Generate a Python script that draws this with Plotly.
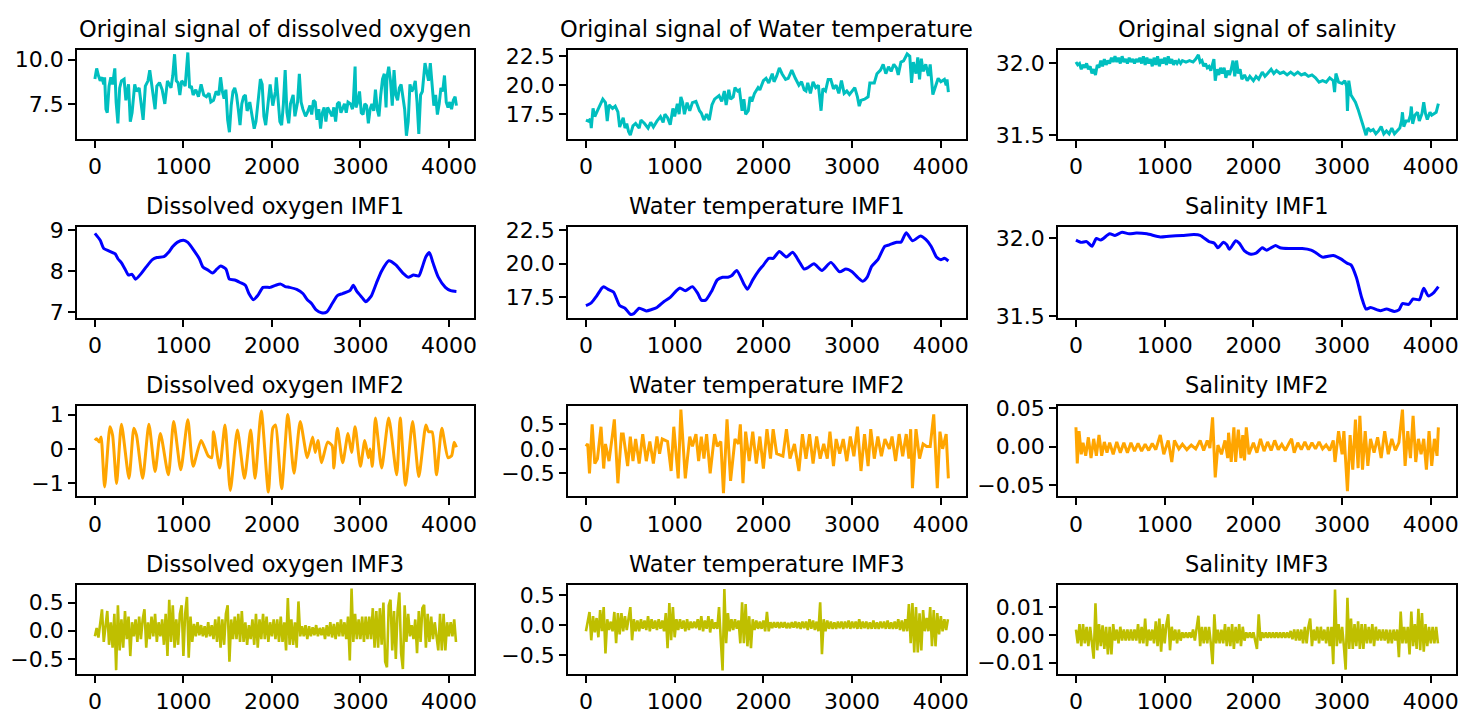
import numpy as np
import plotly.graph_objects as go

# ------------------------------------------------------------------
# Sample values (x = sample index, y = value)
# ------------------------------------------------------------------
do_raw = [(0, 8.9), (20, 9.5), (40, 9.1), (60, 8.8), (80, 9.0), (100, 8.6), (110, 9.0), (125, 7.2),
          (140, 7.0), (160, 8.5), (180, 9.0), (200, 8.6), (225, 9.5), (240, 7.6), (260, 6.4), (280, 8.4),
          (300, 8.8), (330, 8.9), (350, 7.7), (380, 8.6), (400, 6.5), (420, 7.0), (450, 8.6), (470, 8.2),
          (500, 8.4), (520, 7.5), (545, 6.6), (570, 8.5), (600, 8.8), (620, 9.4), (640, 8.6), (660, 8.0),
          (680, 7.2), (700, 8.5), (730, 8.7), (760, 8.3), (790, 7.5), (820, 8.8), (840, 8.6), (860, 8.4),
          (880, 9.1), (900, 10.3), (920, 8.8), (940, 8.7), (960, 8.0), (980, 8.8), (1000, 8.7), (1020, 8.5),
          (1050, 10.4), (1070, 8.4), (1090, 8.5), (1110, 8.0), (1140, 8.3), (1170, 7.9), (1200, 8.6),
          (1230, 8.0), (1260, 7.9), (1290, 8.1), (1310, 7.6), (1340, 7.7), (1370, 8.2), (1400, 8.0),
          (1420, 9.0), (1440, 8.2), (1460, 7.8), (1480, 8.3), (1500, 6.6), (1520, 5.9), (1540, 7.4),
          (1560, 8.2), (1580, 8.4), (1600, 8.0), (1620, 7.2), (1640, 6.3), (1660, 7.5), (1680, 7.9),
          (1700, 8.0), (1720, 7.1), (1750, 7.6), (1780, 6.6), (1800, 6.1), (1820, 6.5), (1840, 7.4),
          (1870, 8.9), (1890, 8.6), (1910, 6.8), (1930, 6.3), (1950, 7.3), (1980, 8.6), (2010, 7.4),
          (2040, 8.2), (2050, 9.0), (2070, 7.5), (2090, 6.5), (2110, 6.3), (2130, 7.5), (2150, 9.4),
          (2170, 7.0), (2190, 6.4), (2210, 7.5), (2240, 8.0), (2260, 6.8), (2290, 7.6), (2310, 9.2),
          (2330, 7.6), (2350, 7.2), (2380, 6.8), (2400, 7.0), (2430, 7.4), (2450, 6.9), (2470, 7.7),
          (2490, 7.6), (2510, 6.6), (2530, 7.2), (2550, 6.1), (2570, 7.0), (2590, 7.3), (2610, 6.5),
          (2630, 7.3), (2660, 7.0), (2680, 6.8), (2700, 7.3), (2720, 6.5), (2740, 7.5), (2760, 7.6),
          (2780, 7.0), (2800, 7.3), (2820, 7.5), (2840, 7.0), (2860, 7.6), (2890, 7.5), (2910, 7.2),
          (2920, 7.6), (2940, 9.6), (2950, 7.3), (2970, 7.6), (2990, 8.2), (3010, 7.0), (3030, 6.9),
          (3050, 7.5), (3070, 7.4), (3090, 6.4), (3110, 7.2), (3130, 7.5), (3150, 7.1), (3170, 8.3),
          (3190, 7.2), (3210, 6.8), (3230, 8.0), (3250, 8.9), (3270, 9.2), (3290, 7.3), (3300, 9.0),
          (3320, 9.6), (3340, 8.8), (3360, 7.4), (3380, 9.4), (3400, 8.0), (3420, 7.7), (3440, 8.4),
          (3460, 8.6), (3480, 7.8), (3500, 7.2), (3520, 5.7), (3540, 6.5), (3560, 8.6), (3580, 8.2),
          (3600, 8.4), (3620, 8.8), (3640, 7.6), (3660, 5.8), (3680, 8.0), (3700, 8.2), (3730, 9.8),
          (3750, 9.2), (3770, 8.8), (3790, 9.8), (3810, 8.5), (3830, 7.4), (3850, 8.0), (3870, 6.9),
          (3890, 7.5), (3910, 8.4), (3930, 8.2), (3950, 9.1), (3970, 7.6), (3990, 7.3), (4010, 7.6),
          (4030, 7.2), (4050, 7.7), (4070, 7.9), (4085, 7.4)]

wt_raw = [(0, 17.0), (30, 16.9), (50, 17.1), (60, 16.3), (80, 18.0), (100, 17.3), (130, 17.8),
          (160, 18.3), (190, 18.8), (220, 18.5), (240, 16.9), (260, 18.3), (300, 18.0), (330, 18.2),
          (360, 17.7), (380, 16.4), (400, 16.9), (420, 17.2), (440, 16.3), (460, 16.7), (480, 16.0),
          (500, 15.7), (530, 16.5), (560, 16.7), (600, 16.3), (620, 17.0), (660, 16.7), (700, 16.3),
          (730, 16.8), (760, 16.4), (800, 16.9), (840, 17.3), (870, 16.8), (890, 17.5), (920, 17.2),
          (950, 16.6), (980, 18.0), (1000, 17.3), (1030, 18.4), (1050, 17.5), (1070, 19.0), (1090, 18.5),
          (1110, 17.5), (1140, 18.5), (1170, 17.8), (1200, 18.5), (1240, 18.6), (1280, 17.8),
          (1300, 17.6), (1330, 17.0), (1360, 17.5), (1390, 17.0), (1420, 18.3), (1450, 18.8),
          (1500, 19.1), (1530, 18.6), (1560, 19.5), (1580, 18.3), (1610, 19.6), (1630, 18.8),
          (1660, 19.0), (1680, 19.8), (1710, 19.5), (1730, 19.6), (1760, 17.8), (1780, 18.8),
          (1800, 17.5), (1830, 17.8), (1850, 19.0), (1870, 18.6), (1900, 19.3), (1940, 19.8),
          (1960, 19.6), (2000, 20.4), (2030, 20.6), (2060, 20.2), (2100, 21.0), (2120, 20.3),
          (2150, 20.8), (2180, 21.5), (2210, 21.0), (2250, 20.5), (2280, 20.6), (2320, 21.3),
          (2360, 20.6), (2400, 20.0), (2430, 20.3), (2460, 19.6), (2480, 19.5), (2500, 20.2),
          (2530, 19.3), (2560, 20.3), (2590, 19.8), (2620, 20.0), (2650, 17.8), (2670, 19.7),
          (2700, 19.5), (2730, 20.5), (2760, 20.5), (2790, 19.7), (2820, 20.0), (2850, 19.3),
          (2880, 20.4), (2910, 19.3), (2940, 19.5), (2970, 19.2), (3000, 19.5), (3030, 19.8),
          (3060, 19.0), (3080, 18.2), (3100, 18.7), (3140, 18.8), (3180, 19.0), (3200, 20.2),
          (3250, 20.2), (3280, 21.0), (3320, 21.3), (3350, 21.8), (3380, 21.0), (3410, 21.6),
          (3440, 21.2), (3470, 21.8), (3500, 21.5), (3520, 20.9), (3550, 22.0), (3580, 22.1),
          (3620, 22.7), (3650, 22.5), (3670, 20.2), (3690, 22.0), (3720, 21.0), (3740, 22.4),
          (3760, 20.5), (3780, 22.3), (3800, 21.2), (3830, 21.8), (3860, 20.8), (3880, 21.8),
          (3910, 19.2), (3940, 20.0), (3970, 20.6), (4000, 20.3), (4040, 20.5), (4060, 20.0),
          (4070, 20.5), (4085, 19.4)]

sal_raw = [(0, 32.01), (20, 31.99), (40, 32.0), (60, 31.96), (80, 31.99), (100, 31.97), (120, 32.0),
           (140, 31.96), (160, 31.98), (180, 31.93), (200, 31.96), (220, 31.92), (240, 31.99),
           (260, 31.97), (280, 32.02), (300, 31.98), (320, 32.03), (340, 31.99), (360, 32.02),
           (380, 32.0), (400, 32.04), (420, 32.01), (440, 32.05), (460, 32.01), (480, 32.04),
           (500, 32.0), (520, 32.05), (540, 32.01), (560, 32.03), (580, 32.0), (600, 32.04),
           (620, 32.01), (640, 32.03), (660, 32.0), (680, 32.03), (700, 32.01), (720, 32.04),
           (740, 32.0), (760, 32.05), (780, 31.99), (800, 32.04), (820, 32.0), (840, 32.03),
           (860, 31.98), (880, 32.04), (900, 31.99), (920, 32.05), (940, 31.98), (960, 32.03),
           (980, 32.0), (1000, 32.04), (1020, 31.99), (1040, 32.05), (1060, 32.0), (1080, 32.03),
           (1100, 31.99), (1120, 32.02), (1140, 32.0), (1160, 32.02), (1180, 32.0), (1200, 32.02),
           (1240, 32.01), (1280, 32.02), (1320, 32.01), (1350, 32.03), (1380, 32.06), (1400, 32.01),
           (1420, 32.02), (1440, 31.98), (1460, 32.0), (1480, 31.97), (1500, 31.98), (1520, 31.95),
           (1540, 31.99), (1555, 32.03), (1570, 31.88), (1590, 31.96), (1610, 31.92), (1630, 31.97),
           (1650, 31.93), (1670, 31.97), (1690, 31.9), (1710, 31.95), (1730, 31.92), (1750, 31.96),
           (1770, 32.02), (1790, 31.91), (1810, 32.02), (1830, 31.93), (1850, 31.96), (1870, 31.89),
           (1900, 31.92), (1930, 31.88), (1960, 31.91), (2000, 31.88), (2030, 31.91), (2060, 31.89),
           (2100, 31.94), (2130, 31.91), (2160, 31.93), (2200, 31.96), (2230, 31.93), (2260, 31.95),
           (2300, 31.93), (2340, 31.94), (2380, 31.92), (2420, 31.94), (2460, 31.92), (2500, 31.94),
           (2540, 31.92), (2580, 31.93), (2620, 31.91), (2660, 31.92), (2700, 31.9), (2740, 31.87),
           (2780, 31.88), (2820, 31.87), (2860, 31.9), (2900, 31.88), (2915, 31.80), (2930, 31.93),
           (2960, 31.87), (3000, 31.86), (3030, 31.88), (3050, 31.84), (3060, 31.67), (3075, 31.88),
           (3100, 31.78), (3120, 31.76), (3150, 31.73), (3180, 31.68), (3200, 31.64), (3230, 31.58),
           (3250, 31.55), (3270, 31.5), (3290, 31.55), (3320, 31.53), (3350, 31.54), (3380, 31.51),
           (3410, 31.53), (3440, 31.56), (3470, 31.51), (3500, 31.53), (3530, 31.51), (3560, 31.55),
           (3590, 31.51), (3620, 31.53), (3650, 31.55), (3670, 31.6), (3680, 31.66), (3695, 31.56),
           (3720, 31.6), (3750, 31.6), (3770, 31.64), (3780, 31.70), (3795, 31.58), (3820, 31.64),
           (3850, 31.66), (3870, 31.6), (3900, 31.65), (3920, 31.73), (3940, 31.65), (3960, 31.61),
           (3990, 31.66), (4010, 31.64), (4040, 31.65), (4060, 31.66), (4085, 31.72)]

do_imf1 = [(0, 8.92), (60, 8.75), (100, 8.55), (150, 8.5), (200, 8.45), (230, 8.42), (260, 8.3),
           (300, 8.2), (340, 8.05), (380, 7.9), (420, 7.92), (460, 7.8), (520, 7.93), (580, 8.1),
           (650, 8.28), (700, 8.33), (780, 8.35), (830, 8.45), (880, 8.6), (930, 8.7), (1000, 8.75),
           (1050, 8.7), (1120, 8.5), (1180, 8.3), (1220, 8.1), (1280, 8.02), (1330, 7.95), (1380, 8.05),
           (1420, 8.12), (1480, 8.05), (1520, 7.8), (1580, 7.78), (1640, 7.72), (1700, 7.65),
           (1740, 7.45), (1790, 7.3), (1840, 7.4), (1900, 7.6), (1980, 7.6), (2040, 7.65), (2100, 7.68),
           (2150, 7.62), (2200, 7.6), (2280, 7.55), (2350, 7.45), (2400, 7.3), (2450, 7.2), (2500, 7.05),
           (2560, 6.98), (2620, 7.0), (2680, 7.2), (2740, 7.4), (2800, 7.45), (2880, 7.52), (2920, 7.65),
           (2960, 7.5), (3020, 7.35), (3060, 7.25), (3120, 7.38), (3180, 7.7), (3240, 8.0), (3320, 8.25),
           (3400, 8.15), (3480, 7.95), (3540, 7.85), (3600, 7.9), (3660, 7.88), (3700, 8.1), (3740, 8.35),
           (3780, 8.45), (3820, 8.2), (3880, 7.85), (3960, 7.6), (4020, 7.52), (4085, 7.5)]

wt_imf1 = [(0, 16.9), (60, 17.1), (120, 17.6), (180, 18.2), (200, 18.3), (250, 18.1), (310, 17.9),
           (380, 16.9), (440, 16.7), (500, 16.25), (540, 16.3), (600, 16.7), (680, 16.5), (740, 16.6),
           (800, 16.75), (880, 17.2), (950, 17.5), (1020, 18.0), (1060, 18.2), (1120, 18.0), (1200, 18.3),
           (1260, 17.8), (1300, 17.3), (1350, 17.3), (1420, 18.0), (1480, 18.8), (1540, 19.0),
           (1600, 19.0), (1640, 19.1), (1700, 19.5), (1780, 18.5), (1820, 18.1), (1880, 18.8),
           (1950, 19.5), (2000, 19.9), (2060, 20.4), (2110, 20.4), (2180, 20.9), (2260, 20.5),
           (2330, 20.85), (2400, 20.2), (2460, 19.6), (2500, 19.7), (2570, 20.0), (2660, 19.5),
           (2760, 20.1), (2860, 19.4), (2930, 19.6), (3000, 19.4), (3060, 19.0), (3120, 18.7),
           (3170, 19.0), (3220, 19.8), (3290, 20.3), (3370, 21.3), (3420, 21.4), (3500, 21.6),
           (3550, 21.6), (3610, 22.3), (3680, 21.7), (3770, 22.05), (3830, 21.8), (3890, 21.3),
           (3950, 20.5), (4000, 20.3), (4040, 20.4), (4085, 20.2)]

sal_imf1 = [(0, 31.99), (60, 31.975), (120, 31.98), (180, 31.95), (230, 32.0), (280, 31.99),
            (380, 32.03), (440, 32.02), (520, 32.04), (600, 32.03), (680, 32.035), (800, 32.03),
            (950, 32.01), (1050, 32.015), (1200, 32.02), (1330, 32.025), (1400, 32.02), (1500, 31.98),
            (1560, 31.97), (1600, 31.94), (1660, 31.975), (1700, 31.96), (1730, 31.93), (1800, 31.985),
            (1840, 31.97), (1900, 31.92), (1960, 31.9), (2030, 31.905), (2100, 31.94), (2150, 31.925),
            (2250, 31.955), (2300, 31.94), (2400, 31.935), (2550, 31.935), (2650, 31.925), (2700, 31.91),
            (2780, 31.88), (2900, 31.89), (2980, 31.87), (3060, 31.84), (3100, 31.83), (3160, 31.75),
            (3220, 31.62), (3270, 31.545), (3320, 31.555), (3430, 31.535), (3500, 31.545), (3590, 31.53),
            (3640, 31.54), (3680, 31.58), (3750, 31.575), (3800, 31.61), (3870, 31.605), (3920, 31.68),
            (3970, 31.63), (4030, 31.65), (4085, 31.69)]

do_imf2 = [(0, 0.25), (20, 0.3), (50, 0.2), (70, 0.35), (110, -1.1), (170, 0.65), (200, 0.4),
           (245, -1.0), (300, 0.72), (385, -0.85), (440, 0.6), (470, 0.4), (540, -0.85), (610, 0.72),
           (680, -0.65), (740, 0.45), (830, -0.75), (890, 0.8), (970, -0.6), (1050, 0.85), (1110, -0.5),
           (1200, 0.25), (1280, -0.2), (1320, -0.25), (1340, 0.5), (1410, -0.55), (1470, 0.7),
           (1530, -1.2), (1610, 0.55), (1690, -0.85), (1760, 0.55), (1810, -0.85), (1880, 1.1),
           (1960, -1.25), (2010, 0.6), (2040, 0.7), (2110, -1.15), (2180, 1.0), (2250, -0.7),
           (2320, 0.8), (2400, -0.25), (2460, 0.35), (2490, -0.1), (2520, 0.25), (2560, -0.4),
           (2630, 0.2), (2680, 0.1), (2700, -0.55), (2740, 0.6), (2800, -0.4), (2860, 0.45),
           (2900, -0.1), (2940, 0.65), (3000, -0.5), (3050, 0.25), (3090, -0.25), (3110, 0.0),
           (3135, -0.5), (3170, 0.9), (3240, -0.55), (3320, 0.9), (3410, -0.75), (3450, 0.9),
           (3510, -1.05), (3590, 0.8), (3660, -0.8), (3740, 0.7), (3770, 0.5), (3810, 0.5),
           (3860, -0.75), (3920, 0.6), (3990, -0.25), (4030, -0.2), (4060, 0.2), (4085, 0.05)]

wt_imf2 = [(0, 0.05), (20, 0.1), (40, -0.5), (70, 0.5), (100, -0.3), (130, -0.2), (170, 0.45),
           (200, -0.4), (220, 0.1), (260, -0.25), (300, 0.3), (320, 0.6), (360, -0.7), (400, 0.3),
           (420, 0.3), (470, -0.35), (500, 0.25), (530, -0.25), (560, 0.2), (600, -0.3), (640, 0.3),
           (680, -0.25), (720, 0.15), (760, -0.3), (800, 0.25), (830, -0.1), (860, 0.2), (920, 0.15),
           (960, -0.45), (990, 0.45), (1040, -0.6), (1070, 0.8), (1120, -0.6), (1170, 0.25),
           (1200, 0.05), (1240, 0.3), (1270, -0.25), (1300, 0.25), (1330, -0.2), (1360, 0.3),
           (1400, -0.5), (1450, 0.3), (1480, 0.05), (1520, 0.15), (1550, -0.9), (1590, 0.6),
           (1630, -0.65), (1680, 0.2), (1720, 0.1), (1740, 0.5), (1770, -0.7), (1800, 0.35),
           (1840, -0.25), (1880, 0.35), (1920, -0.3), (1960, 0.25), (2000, -0.4), (2040, 0.4),
           (2080, -0.2), (2110, 0.4), (2150, -0.1), (2220, -0.15), (2260, 0.4), (2300, -0.2),
           (2350, 0.1), (2400, -0.45), (2440, 0.3), (2480, -0.2), (2520, 0.3), (2560, -0.3),
           (2600, 0.25), (2640, -0.2), (2680, 0.1), (2720, -0.2), (2750, 0.35), (2790, -0.35),
           (2820, 0.2), (2860, -0.1), (2900, 0.2), (2940, -0.25), (2980, 0.25), (3020, -0.15),
           (3060, 0.45), (3100, -0.45), (3140, 0.3), (3180, -0.35), (3210, 0.4), (3250, -0.2),
           (3290, 0.25), (3330, -0.15), (3370, 0.2), (3420, 0.0), (3450, 0.25), (3490, -0.25),
           (3530, 0.3), (3570, -0.15), (3610, 0.3), (3640, -0.2), (3660, 0.4), (3680, -0.8),
           (3720, 0.4), (3760, -0.2), (3800, 0.1), (3840, 0.05), (3880, 0.05), (3920, 0.7),
           (3960, -0.8), (3990, 0.35), (4020, 0.0), (4060, 0.3), (4085, -0.6)]

sal_imf2 = [(0, 0.025), (15, -0.022), (35, 0.02), (60, -0.01), (80, 0.005), (110, -0.012),
            (140, 0.012), (170, -0.015), (200, 0.01), (230, -0.012), (260, 0.015), (290, -0.012),
            (320, 0.006), (350, -0.008), (380, 0.005), (420, -0.01), (460, 0.006), (500, -0.008),
            (540, 0.005), (580, -0.008), (620, 0.005), (660, -0.006), (700, 0.004), (740, -0.006),
            (780, 0.003), (820, -0.005), (860, 0.004), (900, -0.004), (950, 0.015), (990, -0.01),
            (1040, 0.008), (1080, -0.02), (1110, 0.008), (1160, -0.003), (1200, 0.003), (1250, -0.004),
            (1300, 0.002), (1350, -0.003), (1400, 0.008), (1440, -0.005), (1480, 0.008), (1510, -0.002),
            (1540, 0.038), (1570, -0.04), (1600, 0.002), (1640, -0.01), (1680, 0.008), (1710, -0.015),
            (1720, 0.018), (1750, -0.02), (1780, 0.025), (1800, -0.02), (1830, 0.022), (1860, -0.015),
            (1880, 0.015), (1900, -0.018), (1920, 0.025), (1950, -0.01), (2000, 0.005), (2040, -0.008),
            (2080, 0.01), (2120, -0.006), (2160, 0.006), (2200, -0.005), (2240, 0.008), (2280, -0.004),
            (2320, 0.003), (2360, -0.005), (2400, 0.004), (2430, 0.01), (2460, -0.008), (2500, 0.005),
            (2540, -0.004), (2580, 0.006), (2620, -0.004), (2660, 0.005), (2700, -0.003), (2740, 0.006),
            (2780, -0.003), (2820, 0.002), (2860, -0.005), (2900, 0.008), (2920, -0.02), (2960, 0.02),
            (3000, -0.01), (3020, 0.02), (3060, -0.058), (3090, 0.015), (3120, -0.03), (3150, 0.035),
            (3180, -0.028), (3200, 0.04), (3230, -0.03), (3260, 0.02), (3290, -0.025), (3320, 0.01),
            (3360, -0.008), (3400, 0.012), (3440, -0.015), (3480, 0.02), (3520, -0.01), (3560, 0.01),
            (3600, -0.005), (3640, 0.005), (3680, 0.048), (3710, -0.025), (3740, 0.02), (3770, -0.015),
            (3800, 0.04), (3830, -0.02), (3860, 0.01), (3890, -0.01), (3920, 0.01), (3950, -0.03),
            (3980, 0.02), (4010, -0.025), (4040, 0.01), (4070, -0.012), (4085, 0.025)]

# third components: one value every IMF3_STEP samples, five values per row
IMF3_STEP = 20
do_imf3 = [-0.1, 0.05, -0.12, 0.15, 0.38,
           -0.2, 0.12, 0.35, -0.25, 0.15,
           -0.3, 0.3, -0.7, 0.45, -0.35,
           0.2, -0.3, 0.35, -0.15, 0.25,
           -0.45, 0.15, -0.1, 0.2, -0.2,
           0.25, -0.15, 0.2, 0.38, -0.3,
           0.15, -0.15, 0.25, -0.1, 0.3,
           -0.2, 0.15, -0.1, 0.2, -0.25,
           0.3, -0.45, 0.55, -0.2, 0.45,
           -0.3, 0.2, -0.25, 0.3, 0.45,
           -0.45, 0.3, 0.6, -0.48, 0.25,
           -0.2, 0.12, -0.1, 0.15, -0.08,
           0.1, -0.1, 0.08, -0.12, 0.15,
           -0.1, 0.1, -0.15, 0.2, -0.2,
           0.25, -0.3, 0.2, -0.25, 0.3,
           0.45, -0.55, 0.2, -0.15, 0.25,
           -0.15, 0.3, -0.2, 0.35, -0.2,
           0.15, -0.25, 0.1, -0.15, 0.2,
           -0.25, 0.3, -0.3, 0.2, -0.15,
           0.3, -0.15, 0.25, -0.2, 0.15,
           -0.1, 0.2, -0.15, 0.2, -0.2,
           0.25, -0.2, 0.15, -0.35, 0.58,
           -0.25, 0.2, -0.25, 0.15, -0.3,
           0.52, -0.1, 0.08, -0.1, 0.1,
           -0.15, 0.08, -0.1, 0.06, -0.08,
           0.1, -0.1, 0.05, -0.08, 0.06,
           -0.15, 0.1, -0.1, 0.15, -0.12,
           0.12, -0.15, 0.15, -0.1, 0.2,
           -0.1, 0.15, -0.15, 0.25, -0.53,
           0.75, -0.2, 0.3, -0.15, 0.2,
           -0.15, 0.25, -0.2, 0.25, -0.15,
           0.25, -0.15, 0.4, -0.3, 0.35,
           -0.3, 0.4, -0.25, 0.5, -0.55,
           -0.65, 0.45, 0.55, -0.35, 0.35,
           -0.5, 0.35, 0.68, -0.4, -0.68,
           0.45, -0.2, 0.3, -0.1, 0.1,
           -0.15, 0.2, -0.4, 0.35, -0.2,
           0.4, 0.46, -0.3, 0.3, -0.2,
           0.25, -0.15, 0.15, -0.12, -0.35,
           0.3, -0.35, 0.3, -0.35, 0.15,
           -0.1, 0.15, -0.1, 0.2, -0.2]

wt_imf3 = [-0.1, 0.08, 0.22, -0.25, 0.15,
           -0.12, 0.12, -0.2, 0.25, -0.1,
           0.3, -0.47, 0.1, -0.08, 0.06,
           -0.1, 0.22, -0.3, 0.2, -0.15,
           0.2, -0.1, 0.15, -0.08, 0.12,
           0.3, -0.25, 0.1, -0.1, 0.08,
           -0.1, 0.1, -0.06, 0.08, -0.08,
           0.15, -0.1, 0.1, -0.06, 0.08,
           -0.08, 0.1, -0.06, 0.08, -0.1,
           0.2, -0.38, 0.37, -0.25, 0.3,
           -0.2, 0.1, -0.08, 0.1, -0.06,
           0.08, -0.1, 0.1, -0.08, 0.06,
           -0.05, 0.06, -0.05, 0.1, -0.08,
           0.15, -0.1, 0.08, -0.06, 0.15,
           -0.12, 0.1, -0.06, 0.05, -0.06,
           0.3, -0.25, -0.75, 0.6, -0.3,
           0.2, -0.1, 0.1, -0.08, 0.1,
           -0.06, 0.08, -0.3, 0.38, -0.3,
           0.35, -0.35, 0.15, -0.38, 0.1,
           -0.08, 0.08, -0.06, 0.06, -0.06,
           0.08, -0.1, 0.22, -0.1, 0.05,
           -0.05, 0.05, -0.04, 0.05, -0.05,
           0.05, -0.04, 0.05, -0.05, 0.04,
           -0.05, 0.05, -0.04, 0.06, -0.05,
           0.05, -0.06, 0.06, -0.05, 0.06,
           -0.08, 0.1, -0.06, 0.08, -0.08,
           0.06, -0.1, 0.38, -0.48, 0.1,
           -0.1, 0.08, -0.06, 0.06, -0.06,
           0.05, -0.06, 0.06, -0.05, 0.06,
           -0.06, 0.06, -0.05, 0.08, -0.06,
           0.06, -0.05, 0.06, -0.06, 0.1,
           -0.06, 0.06, -0.05, 0.06, -0.06,
           0.05, -0.06, 0.08, -0.06, 0.05,
           -0.06, 0.06, -0.05, 0.06, -0.06,
           0.08, -0.06, 0.05, -0.06, 0.06,
           -0.06, 0.1, -0.08, 0.08, -0.1,
           0.1, -0.1, 0.35, -0.3, 0.37,
           -0.45, 0.3, -0.45, 0.2, -0.42,
           0.25, -0.1, 0.12, -0.1, 0.3,
           -0.35, 0.25, -0.35, 0.2, -0.15,
           0.15, -0.1, 0.1, -0.08, 0.1]

sal_imf3 = [0.002, -0.003, 0.004, -0.004, 0.004,
            -0.003, 0.003, -0.004, 0.003, -0.003,
            -0.0085, 0.0115, -0.0055, 0.004, -0.004,
            0.0035, -0.005, 0.003, -0.007, 0.003,
            -0.007, 0.004, -0.002, 0.002, -0.003,
            0.003, -0.002, 0.002, -0.002, 0.002,
            -0.002, 0.002, -0.002, 0.002, -0.002,
            0.004, -0.003, 0.003, -0.003, 0.006,
            -0.004, 0.002, -0.002, 0.002, -0.003,
            0.005, -0.004, 0.006, -0.006, 0.004,
            -0.003, 0.004, 0.0075, -0.0055, 0.003,
            -0.002, 0.002, -0.003, 0.002, -0.002,
            0.001, -0.001, 0.001, -0.001, 0.001,
            -0.001, 0.002, -0.002, 0.003, 0.007,
            -0.004, 0.003, -0.003, 0.003, -0.003,
            0.003, -0.003, -0.0105, 0.0075, -0.003,
            0.002, -0.003, 0.002, -0.003, 0.004,
            -0.004, 0.003, -0.004, 0.004, -0.005,
            0.003, -0.003, 0.004, -0.004, 0.003,
            -0.002, 0.001, -0.001, 0.001, -0.001,
            0.001, -0.002, -0.005, 0.0075, -0.002,
            0.001, -0.001, 0.001, -0.001, 0.001,
            -0.001, 0.001, -0.001, 0.001, -0.001,
            0.001, -0.001, 0.001, -0.001, 0.001,
            -0.001, 0.0015, -0.0015, 0.002, -0.002,
            0.002, -0.002, 0.002, -0.003, 0.003,
            -0.003, 0.003, 0.006, -0.004, 0.002,
            -0.002, 0.003, -0.003, 0.003, -0.002,
            0.002, -0.003, 0.003, -0.004, 0.003,
            -0.0105, 0.0165, -0.004, 0.004, -0.003,
            0.003, -0.004, -0.0125, 0.0135, -0.005,
            0.006, -0.005, 0.004, -0.004, 0.005,
            -0.005, 0.004, -0.005, 0.004, -0.003,
            0.003, -0.003, 0.004, -0.004, 0.003,
            -0.002, 0.002, -0.002, 0.002, -0.002,
            0.002, -0.003, 0.002, -0.003, 0.002,
            -0.002, 0.002, -0.008, 0.0085, -0.003,
            0.003, -0.003, 0.003, -0.007, 0.0085,
            -0.004, 0.004, -0.005, 0.0095, -0.0055,
            0.008, -0.006, 0.004, -0.004, 0.003,
            -0.003, 0.003, -0.003, 0.003, -0.003]

titles = ["Original signal of dissolved oxygen", "Original signal of Water temperature",
          "Original signal of salinity",
          "Dissolved oxygen IMF1", "Water temperature IMF1", "Salinity IMF1",
          "Dissolved oxygen IMF2", "Water temperature IMF2", "Salinity IMF2",
          "Dissolved oxygen IMF3", "Water temperature IMF3", "Salinity IMF3"]

x_ticks = [0, 1000, 2000, 3000, 4000]
y_ticks = [
    ([7.5, 10.0], ["7.5", "10.0"]),
    ([17.5, 20.0, 22.5], ["17.5", "20.0", "22.5"]),
    ([31.5, 32.0], ["31.5", "32.0"]),
    ([7, 8, 9], ["7", "8", "9"]),
    ([17.5, 20.0, 22.5], ["17.5", "20.0", "22.5"]),
    ([31.5, 32.0], ["31.5", "32.0"]),
    ([-1, 0, 1], ["\u22121", "0", "1"]),
    ([-0.5, 0.0, 0.5], ["\u22120.5", "0.0", "0.5"]),
    ([-0.05, 0.0, 0.05], ["\u22120.05", "0.00", "0.05"]),
    ([-0.5, 0.0, 0.5], ["\u22120.5", "0.0", "0.5"]),
    ([-0.5, 0.0, 0.5], ["\u22120.5", "0.0", "0.5"]),
    ([-0.01, 0.0, 0.01], ["\u22120.01", "0.00", "0.01"]),
]
y_ranges = [[5.51, 10.55], [15.35, 23.06], [31.473, 32.095],
            [6.858, 9.064], [15.99, 22.69], [31.489, 32.071],
            [-1.375, 1.245], [-0.967, 0.869], [-0.0647, 0.0525],
            [-0.770, 0.816], [-0.811, 0.672], [-0.0141, 0.0182]]


def split(pairs):
    return [p[0] for p in pairs], [p[1] for p in pairs]


def stepped(values):
    return list(np.arange(len(values)) * IMF3_STEP), values


series = [split(do_raw), split(wt_raw), split(sal_raw),
          split(do_imf1), split(wt_imf1), split(sal_imf1),
          split(do_imf2), split(wt_imf2), split(sal_imf2),
          stepped(do_imf3), stepped(wt_imf3), stepped(sal_imf3)]

row_colors = ["#00BFBF", "#0000FF", "#FFA500", "#BFBF00"]

W, H = 1478, 721
col_px = [(77, 475), (569, 968), (1060, 1459)]
row_px = [(41, 133), (224, 317), (408, 501), (592, 684)]

FONT = "DejaVu Sans"
fig = go.Figure()
annotations = []
layout = dict(width=W, height=H, margin=dict(l=0, r=0, t=0, b=0),
              paper_bgcolor="white", plot_bgcolor="white", showlegend=False)

for k in range(12):
    r, c = divmod(k, 3)
    n = k + 1
    xs, ys = series[k]
    smooth = (r == 1) or (k == 6)
    fig.add_trace(go.Scatter(
        x=xs, y=ys, mode="lines",
        line=dict(color=row_colors[r], width=3.0 if r != 3 else 2.6,
                  shape="spline" if smooth else "linear", smoothing=0.6),
        xaxis=f"x{n}", yaxis=f"y{n}", hoverinfo="skip"))

    x0, x1 = col_px[c]
    y0, y1 = row_px[r]
    dom_x = [x0 / W, x1 / W]
    dom_y = [1 - y1 / H, 1 - y0 / H]
    axis_common = dict(showline=True, mirror=True, linecolor="black", linewidth=1.6,
                       ticks="outside", ticklen=7, tickwidth=1.6, tickcolor="black",
                       showgrid=False, zeroline=False,
                       tickfont=dict(family=FONT, size=22, color="black"))
    layout[f"xaxis{n}"] = dict(domain=dom_x, range=[-204, 4284], anchor=f"y{n}",
                               tickvals=x_ticks, ticktext=[str(v) for v in x_ticks],
                               **axis_common)
    tv, tt = y_ticks[k]
    layout[f"yaxis{n}"] = dict(domain=dom_y, range=y_ranges[k], anchor=f"x{n}",
                               tickvals=tv, ticktext=tt, **axis_common)
    annotations.append(dict(text=titles[k], xref="paper", yref="paper",
                            x=(dom_x[0] + dom_x[1]) / 2, y=dom_y[1],
                            xanchor="center", yanchor="bottom", yshift=6, showarrow=False,
                            font=dict(family=FONT, size=22.5, color="black")))

layout["annotations"] = annotations
fig.update_layout(**layout)
fig.write_html("out.html")
